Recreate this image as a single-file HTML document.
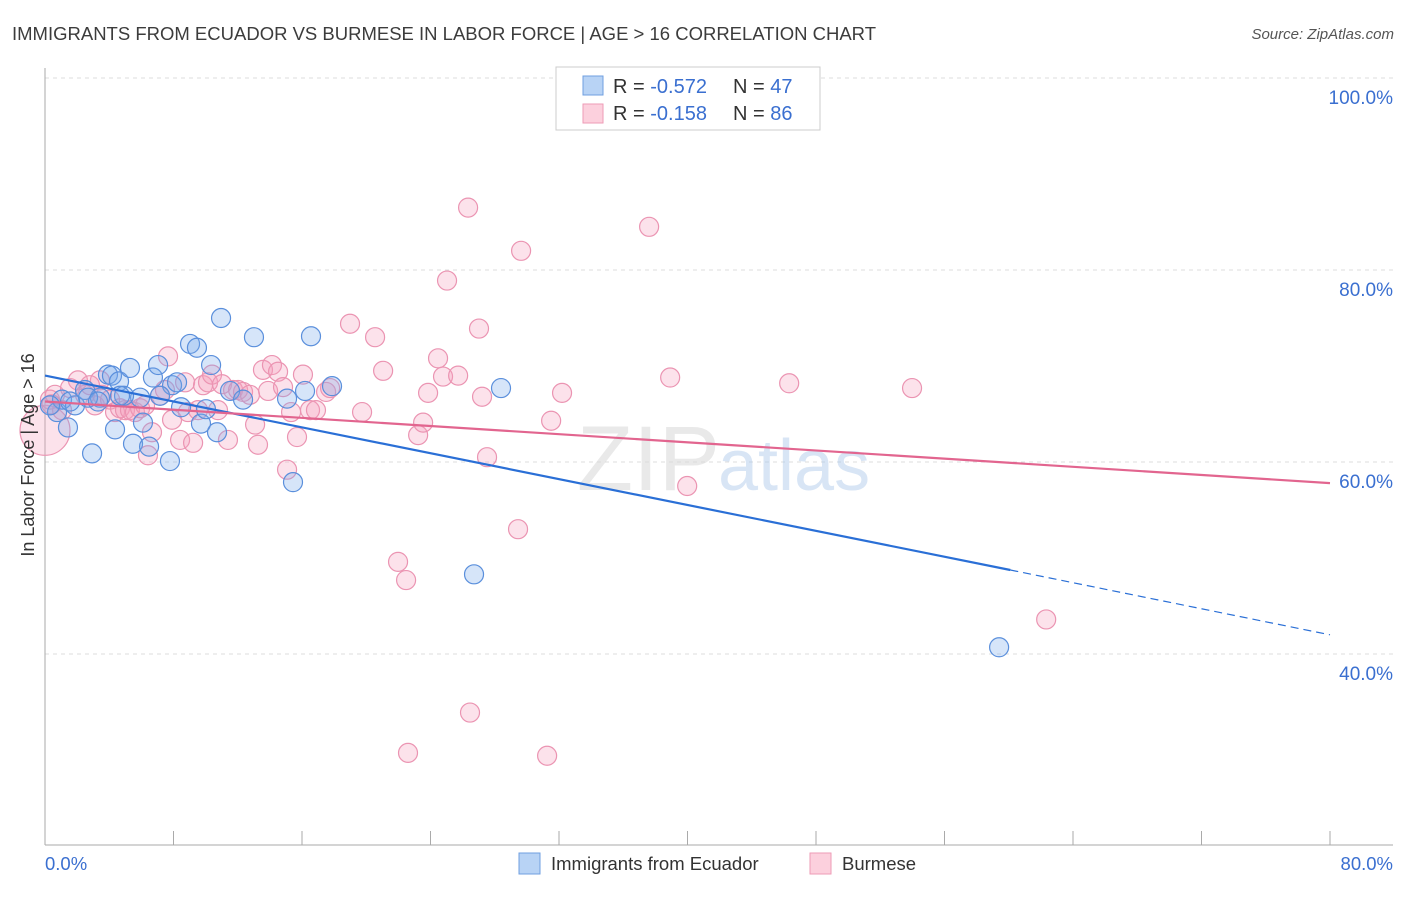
<!DOCTYPE html>
<html><head><meta charset="utf-8"><style>
body{margin:0;background:#fff;font-family:"Liberation Sans",sans-serif;}
svg text{font-family:"Liberation Sans",sans-serif;}
</style></head><body>
<svg id="chart" width="1406" height="892" xmlns="http://www.w3.org/2000/svg">
<text x="12" y="40" font-size="18.5" fill="#3c3c3c">IMMIGRANTS FROM ECUADOR VS BURMESE IN LABOR FORCE | AGE &gt; 16 CORRELATION CHART</text>
<text x="1394" y="39" font-size="15" fill="#555" font-style="italic" text-anchor="end">Source: ZipAtlas.com</text>
<g id="grid"></g>
<text x="720" y="490" font-size="92" fill="#d8d8d8" opacity="0.55" text-anchor="end" font-family="Liberation Serif">ZIP</text>
<text x="718" y="490" font-size="72" fill="#a9c6ea" opacity="0.45">atlas</text>
<g id="pts"></g>
<g id="lines"></g>
<text transform="translate(34,455) rotate(-90)" font-size="18" fill="#333" text-anchor="middle">In Labor Force | Age &gt; 16</text>
<g>
<rect x="556" y="67" width="264" height="63" fill="#fff" stroke="#ccc"/>
<rect x="583" y="76" width="20" height="19" fill="#b8d3f5" stroke="#6f9fe0"/>
<rect x="583" y="104" width="20" height="19" fill="#fcd0dd" stroke="#ee9bb6"/>
<text x="613" y="93" font-size="20" fill="#333">R = <tspan fill="#3a6fd0">-0.572</tspan><tspan x="733">N = </tspan><tspan fill="#3a6fd0">47</tspan></text>
<text x="613" y="120" font-size="20" fill="#333">R = <tspan fill="#3a6fd0"> -0.158</tspan><tspan x="733">N = </tspan><tspan fill="#3a6fd0">86</tspan></text>
</g>
<g>
<rect x="519" y="853" width="21" height="21" fill="#b8d3f5" stroke="#6f9fe0"/>
<text x="551" y="870" font-size="18.5" fill="#333">Immigrants from Ecuador</text>
<rect x="810" y="853" width="21" height="21" fill="#fcd0dd" stroke="#ee9bb6"/>
<text x="842" y="870" font-size="18.5" fill="#333">Burmese</text>
</g>
<text x="45" y="870" font-size="18.5" fill="#3a6fd0">0.0%</text>
<text x="1393" y="870" font-size="18.5" fill="#3a6fd0" text-anchor="end">80.0%</text>
</svg>
<script>
const yTicks=[100,80,60,40];
const yTickLabels=["100.0%","80.0%","60.0%","40.0%"];
const xTicks=[0,8,16,24,32,40,48,56,64,72,80];
const ecuadorX=[0.75,1.06,1.43,1.87,2.49,2.93,3.42,3.92,4.17,4.36,4.61,5.29,5.48,5.92,6.10,6.48,6.72,7.04,7.78,7.91,8.22,8.47,9.03,9.46,9.71,10.02,10.34,10.71,10.96,11.52,12.33,13.01,15.07,15.44,16.19,16.56,17.87,26.71,28.39,59.40,0.31,2.68,4.92,7.16,1.56,3.30,4.67];
const ecuadorY=[65.2,66.5,63.6,65.9,67.5,60.9,66.7,69.1,69.0,63.4,68.4,69.8,61.9,66.7,64.1,61.6,68.8,70.1,60.1,68.0,68.3,65.7,72.3,71.9,64.0,65.5,70.1,63.1,75.0,67.4,66.5,73.0,66.6,57.9,67.4,73.1,67.9,48.3,67.7,40.7,65.9,66.7,66.9,66.9,66.3,66.3,66.9];
const burmeseX=[0,0.31,0.62,1.06,1.56,2.05,2.49,3.11,3.55,4.05,4.36,4.67,4.98,5.29,5.60,5.92,6.23,6.66,6.41,7.16,7.47,7.66,7.91,8.41,8.72,8.90,9.22,9.53,9.84,10.15,10.40,10.77,11.02,11.39,11.71,12.02,12.33,12.76,13.08,13.26,13.57,13.89,14.13,14.51,14.82,15.07,15.32,15.69,16.06,16.50,16.87,17.50,17.75,18.99,19.74,20.55,21.05,21.98,22.48,22.60,23.23,23.54,23.85,24.47,24.78,25.03,25.72,26.34,26.46,27.02,27.21,27.52,29.45,29.64,31.26,31.51,32.19,37.61,38.92,39.98,46.33,53.98,62.33,3.42,2.80,0.4];
const burmeseY=[63.3,66.5,67.0,65.4,67.7,68.5,67.0,65.9,67.0,66.5,65.2,65.6,65.4,65.4,65.2,65.6,65.9,63.1,60.7,66.9,67.5,71.0,64.4,62.3,68.3,65.2,62.0,65.4,68.0,68.3,69.1,65.4,68.1,62.3,67.5,67.5,67.3,67.0,63.9,61.8,69.6,67.4,70.1,69.4,67.8,59.2,65.2,62.6,69.1,65.4,65.4,67.3,67.7,74.4,65.2,73.0,69.5,49.6,47.7,29.7,62.8,64.1,67.2,70.8,68.9,78.9,69.0,86.5,33.9,73.9,66.8,60.5,53.0,82.0,29.4,64.3,67.2,84.5,68.8,57.5,68.2,67.7,43.6,68.5,68.0,66.0];
const ecuadorTrend=[69.0,48.75,42.0];
const ecuadorTrendX=[0,60.1,80];
const burmeseTrend=[66.3,57.8];
const burmeseTrendX=[0,80];

const NS="http://www.w3.org/2000/svg";
const X0=45,X1=1330,Y100=78,Y40=654;
function sx(v){return X0+(v/80)*(X1-X0);}
function sy(v){return Y100+(100-v)*(Y40-Y100)/60;}
function mk(t,a,p){const e=document.createElementNS(NS,t);for(const k in a)e.setAttribute(k,a[k]);p.appendChild(e);return e;}
const grid=document.getElementById('grid');
yTicks.forEach((t,i)=>{
 const l=mk('line',{x1:X0,x2:1393,y1:sy(t),y2:sy(t),stroke:'#ddd','stroke-dasharray':'4,4'},grid);
 
 
 const tx=mk('text',{x:1393,y:sy(t)+26,'font-size':19,fill:'#3a6fd0','text-anchor':'end'},grid);
 tx.textContent=yTickLabels[i];
 
 
});
const ax=mk('line',{x1:X0,x2:X0,y1:68,y2:845,stroke:'#aaa'},grid);


const bx=mk('line',{x1:X0,x2:1393,y1:845,y2:845,stroke:'#aaa'},grid);


xTicks.forEach(t=>{
 const l=mk('line',{x1:sx(t),x2:sx(t),y1:831,y2:845,stroke:'#aaa'},grid);
 
 
});
const pts=document.getElementById('pts');
burmeseX.forEach((x,i)=>{
 const c=mk('circle',{cx:sx(x),cy:sy(burmeseY[i]),r:i===0?25:9.5,fill:'rgba(244,160,188,0.3)',stroke:'#eb94b2','stroke-width':1.2},pts);
 
 
});
ecuadorX.forEach((x,i)=>{
 const c=mk('circle',{cx:sx(x),cy:sy(ecuadorY[i]),r:9.5,fill:'rgba(120,170,235,0.3)',stroke:'#5a8fdc','stroke-width':1.2},pts);
 
 
});
const lines=document.getElementById('lines');
const b1=mk('line',{x1:sx(ecuadorTrendX[0]),y1:sy(ecuadorTrend[0]),x2:sx(ecuadorTrendX[1]),y2:sy(ecuadorTrend[1]),stroke:'#2a6fd6','stroke-width':2.2},lines);


const b2=mk('line',{x1:sx(ecuadorTrendX[1]),y1:sy(ecuadorTrend[1]),x2:sx(ecuadorTrendX[2]),y2:sy(ecuadorTrend[2]),stroke:'#2a6fd6','stroke-width':1.2,'stroke-dasharray':'8,5'},lines);


const p1=mk('line',{x1:sx(burmeseTrendX[0]),y1:sy(burmeseTrend[0]),x2:sx(burmeseTrendX[1]),y2:sy(burmeseTrend[1]),stroke:'#e2658f','stroke-width':2.2},lines);


</script>
</body></html>
